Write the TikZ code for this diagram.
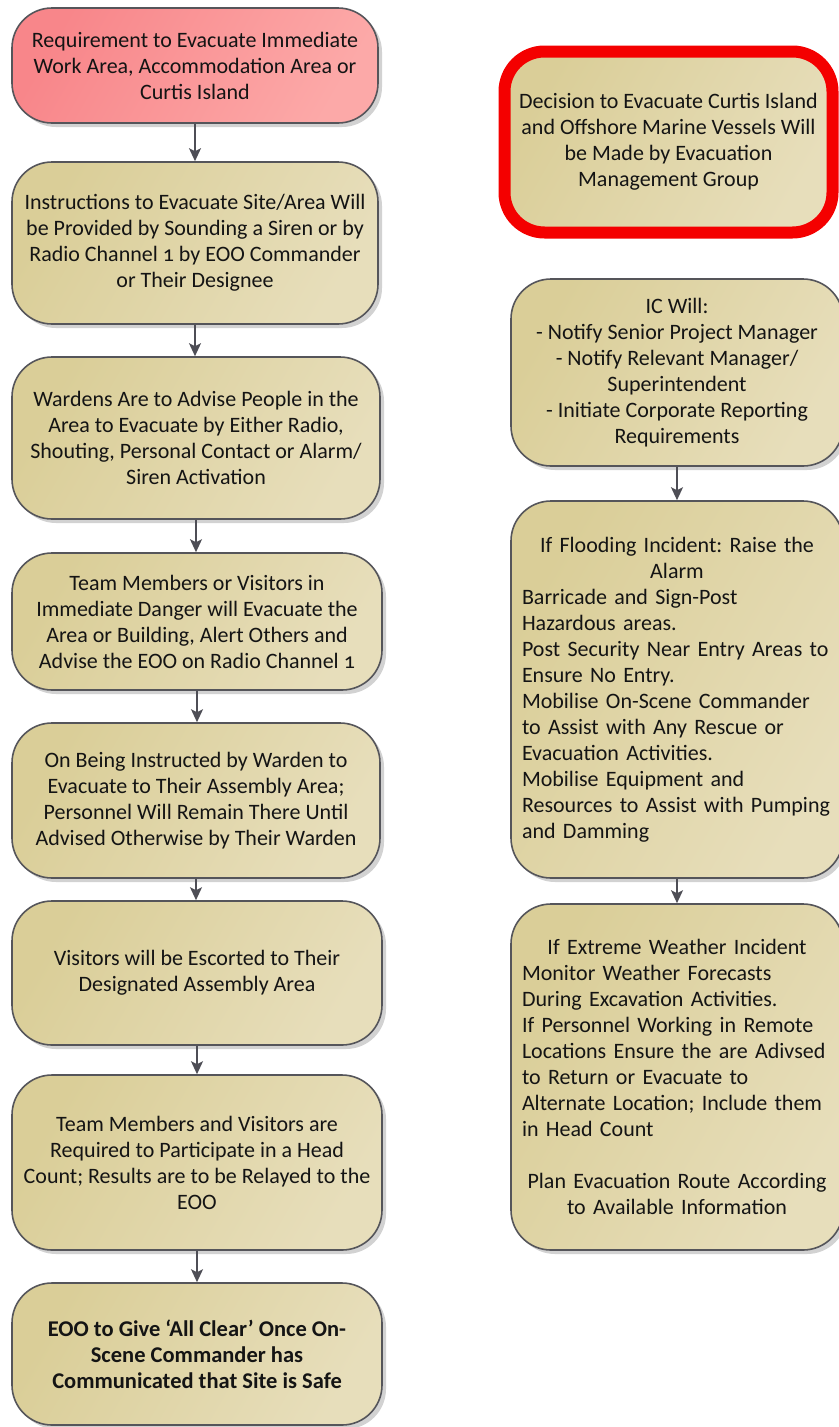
\documentclass[tikz,border=0pt]{standalone}
\usepackage{fontspec}
\setmainfont[Numbers=OldStyle]{Carlito}
\usetikzlibrary{arrows.meta,shadows}
\definecolor{tanA}{HTML}{DACE98}
\definecolor{tanB}{HTML}{E7DEBB}
\definecolor{pinkA}{HTML}{F8868A}
\definecolor{pinkB}{HTML}{FCA9A8}
\definecolor{edge}{HTML}{55555A}
\definecolor{link}{HTML}{4E4E56}
\definecolor{alert}{HTML}{F40000}
\definecolor{ink}{HTML}{141414}
\newcommand{\boxfont}{\fontsize{22}{26}\selectfont\frenchspacing}
\tikzset{
  x=1pt, y=-1pt,
  box/.style={draw=edge, line width=1.6pt, rounded corners=40pt,
    left color=tanA, right color=tanB, shading angle=60,
    drop shadow={shadow xshift=4pt, shadow yshift=-4pt, fill=black!22, opacity=0.8},
    inner sep=0pt, text=ink, font=\boxfont},
  cbox/.style={box, align=center},
  redbox/.style={cbox, left color=pinkA, right color=pinkB, shading angle=60},
  alertbox/.style={cbox, draw=alert, line width=12pt, rounded corners=40pt},
  flow/.style={draw=link, line width=1.8pt, -{Stealth[length=13pt,width=12pt,inset=3pt]}}
}
\begin{document}
\begin{tikzpicture}
\useasboundingbox (0,0) rectangle (838,1427);

% left column
\node[redbox, minimum width=366pt, minimum height=115pt] (l1) at (195,65.5)
  {Requirement to Evacuate Immediate\\ Work Area, Accommodation Area or\\ Curtis Island};
\node[cbox, minimum width=366pt, minimum height=162pt] (l2) at (195,243)
  {Instructions to Evacuate Site/Area Will\\ be Provided by Sounding a Siren or by\\ Radio Channel 1 by EOO Commander\\ or Their Designee};
\node[cbox, minimum width=368pt, minimum height=162pt] (l3) at (196,438)
  {Wardens Are to Advise People in the\\ Area to Evacuate by Either Radio,\\ Shouting, Personal Contact or Alarm/\\ Siren Activation};
\node[cbox, minimum width=370pt, minimum height=137pt] (l4) at (197,621.5)
  {Team Members or Visitors in\\ Immediate Danger will Evacuate the\\ Area or Building, Alert Others and\\ Advise the EOO on Radio Channel 1};
\node[cbox, minimum width=368pt, minimum height=155pt] (l5) at (196,800.5)
  {On Being Instructed by Warden to\\ Evacuate to Their Assembly Area;\\ Personnel Will Remain There Until\\ Advised Otherwise by Their Warden};
\node[cbox, minimum width=370pt, minimum height=144pt] (l6) at (197,973)
  {Visitors will be Escorted to Their\\ Designated Assembly Area};
\node[cbox, minimum width=370pt, minimum height=175pt] (l7) at (197,1162.5)
  {Team Members and Visitors are\\ Required to Participate in a Head\\ Count; Results are to be Relayed to the\\ EOO};
\node[cbox, minimum width=370pt, minimum height=142pt, font=\boxfont\fontsize{22.5}{26}\selectfont\bfseries] (l8) at (197,1354)
  {EOO to Give ‘All Clear’ Once On-\\ Scene Commander has\\ Communicated that Site is Safe};

% right column
\node[alertbox, minimum width=328pt, minimum height=181pt] (r1) at (668.5,142)
  {Decision to Evacuate Curtis Island\\ and Offshore Marine Vessels Will\\ be Made by Evacuation\\ Management Group};
\node[cbox, minimum width=332pt, minimum height=187pt] (r2) at (677,372.5)
  {IC Will:\\ - Notify Senior Project Manager\\ - Notify Relevant Manager/\\ Superintendent\\ - Initiate Corporate Reporting\\ Requirements};
\node[box, minimum width=332pt, minimum height=377pt, text width=310pt] (r3) at (677,689.5)
  {\centering If Flooding Incident: Raise the\\ Alarm\par
   \raggedright Barricade and Sign-Post\\ Hazardous areas.\\ Post Security Near Entry Areas to\\ Ensure No Entry.\\ Mobilise On-Scene Commander\\ to Assist with Any Rescue or\\ Evacuation Activities.\\ Mobilise Equipment and\\ Resources to Assist with Pumping\\ and Damming\par};
\node[box, minimum width=332pt, minimum height=346pt, text width=310pt] (r4) at (677,1077)
  {\centering If Extreme Weather Incident\par
   \raggedright Monitor Weather Forecasts\\ During Excavation Activities.\\ If Personnel Working in Remote\\ Locations Ensure the are Adivsed\\ to Return or Evacuate to\\ Alternate Location; Include them\\ in Head Count\par
   \vspace{26pt}\centering Plan Evacuation Route According\\ to Available Information\par};

% connectors
\foreach \a/\b in {l1/l2, l2/l3, l3/l4, l4/l5, l5/l6, l6/l7, l7/l8, r2/r3, r3/r4}
  \draw[flow] (\a.south) -- (\a.south |- \b.north);
\end{tikzpicture}
\end{document}
